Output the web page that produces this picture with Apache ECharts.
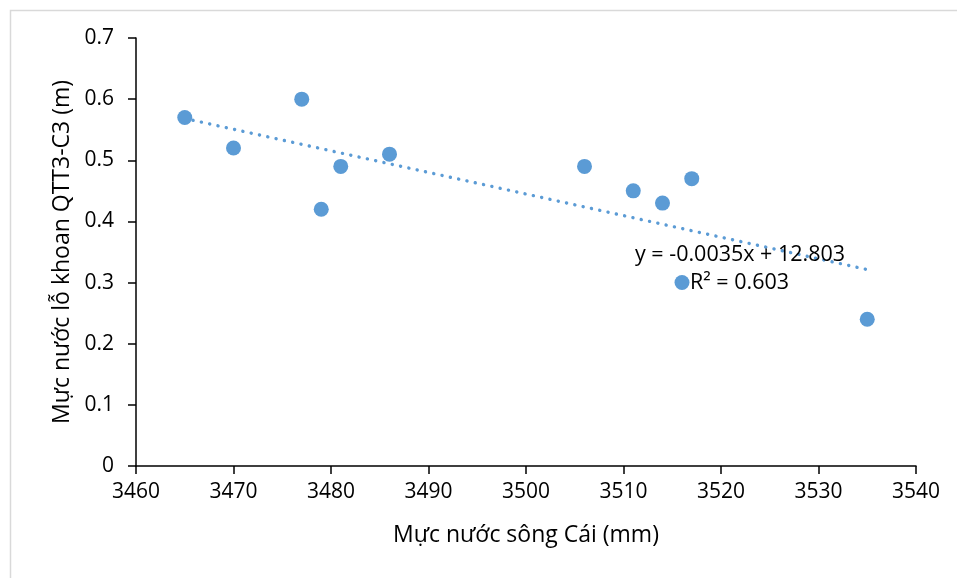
<!DOCTYPE html>
<html>
<head>
<meta charset="utf-8">
<script src="https://cdn.jsdelivr.net/npm/echarts@6/dist/echarts.min.js"></script>
<style>html,body{margin:0;padding:0;background:#fff}#c{width:957px;height:578px}</style>
</head>
<body>
<div id="c"></div>
<script>
var xValues = [3465, 3470, 3477, 3479, 3481, 3486, 3506, 3511, 3514, 3516, 3517, 3535];
var yValues = [0.57, 0.52, 0.60, 0.42, 0.49, 0.51, 0.49, 0.45, 0.43, 0.30, 0.47, 0.24];
var xTitle = 'Mực nước sông Cái (mm)';
var yTitle = 'Mực nước lỗ khoan QTT3-C3 (m)';
var eqText = 'y = -0.0035x + 12.803';
var r2Text = 'R² = 0.603';

// least-squares trend line from data
var n = xValues.length, mx = 0, my = 0;
for (var i = 0; i < n; i++) { mx += xValues[i]; my += yValues[i]; }
mx /= n; my /= n;
var sxy = 0, sxx = 0;
for (var i = 0; i < n; i++) { sxy += (xValues[i]-mx)*(yValues[i]-my); sxx += (xValues[i]-mx)*(xValues[i]-mx); }
var slope = sxy / sxx, icpt = my - slope * mx;
var xMin = Math.min.apply(null, xValues), xMax = Math.max.apply(null, xValues);
var trend = [[xMin, slope*xMin+icpt], [xMax, slope*xMax+icpt]];

var pts = xValues.map(function(x, i){ return [x, yValues[i]]; });
var FONT = 'Open Sans';
var chart = echarts.init(document.getElementById('c'));
chart.setOption({
  animation: false,
  backgroundColor: '#fff',
  grid: { left: 136, right: 41, top: 38, bottom: 112 },
  xAxis: {
    type: 'value', min: 3460, max: 3540, interval: 10,
    name: xTitle, nameLocation: 'middle', nameGap: 58,
    nameTextStyle: { fontFamily: FONT, fontSize: 23, color: '#000' },
    axisLine: { lineStyle: { color: '#000', width: 1.5 } },
    axisTick: { show: true, length: 8, lineStyle: { color: '#000', width: 1.5 } },
    axisLabel: { fontFamily: FONT, fontSize: 21, color: '#000', margin: 16,
      formatter: function(v){ return String(v); } },
    splitLine: { show: false }
  },
  yAxis: {
    type: 'value', min: 0, max: 0.7, interval: 0.1,
    name: yTitle, nameLocation: 'middle', nameGap: 59,
    nameTextStyle: { fontFamily: FONT, fontSize: 23, color: '#000' },
    axisLine: { show: true, lineStyle: { color: '#000', width: 1.5 } },
    axisTick: { show: true, length: 8, lineStyle: { color: '#000', width: 1.5 } },
    axisLabel: { fontFamily: FONT, fontSize: 21, color: '#000', margin: 22,
      formatter: function(v){ return v === 0 ? '0' : v.toFixed(1); } },
    splitLine: { show: false }
  },
  series: [
    {
      type: 'line', data: trend, symbol: 'none', silent: true, z: 1,
      lineStyle: { color: '#5B9BD5', width: 3.4, type: [0.1, 8.4], cap: 'round' }
    },
    {
      type: 'scatter', data: pts, symbol: 'circle', symbolSize: 15, z: 2,
      itemStyle: { color: '#5B9BD5', opacity: 1 }
    }
  ],
  graphic: [
    { type: 'rect', left: 8, top: 8, silent: true, z: -10,
      shape: { x: 0, y: 0, width: 1000, height: 1000 },
      style: { fill: null, stroke: '#d9d9d9', lineWidth: 1.5 } },
    { type: 'text', left: 635, top: 244, z: 10,
      style: { text: eqText, fontFamily: FONT, fontSize: 21.5, fill: '#000' } },
    { type: 'text', left: 690, top: 272, z: 10,
      style: { text: r2Text, fontFamily: FONT, fontSize: 21.5, fill: '#000' } }
  ]
});
</script>
</body>
</html>
